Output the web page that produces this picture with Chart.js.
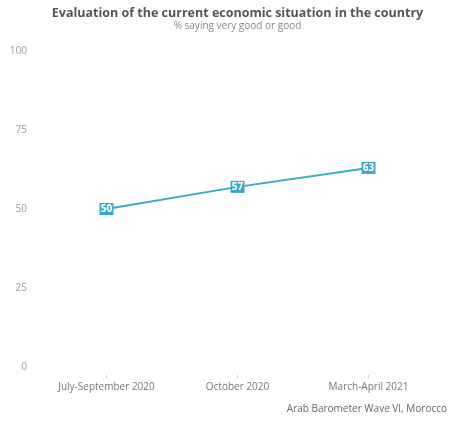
<!DOCTYPE html>
<html>
<head>
<meta charset="utf-8">
<script src="https://cdn.jsdelivr.net/npm/chart.js@4"></script>
<style>
  html, body { margin: 0; padding: 0; background: #fff; }
  #wrap { width: 450px; height: 421px; position: relative; }
</style>
</head>
<body>
<div id="wrap"><canvas id="chart"></canvas></div>
<script>
const periods = ['July-September 2020', 'October 2020', 'March-April 2021'];
const goodShare = [50, 57, 63];
const yTicks = [0, 25, 50, 75, 100];
const titleText = 'Evaluation of the current economic situation in the country';
const subtitleText = '% saying very good or good';
const sourceText = 'Arab Barometer Wave VI, Morocco';

const lineColor = '#3aabc2';

// square value labels sitting on the points
const valueBoxes = {
    id: 'valueBoxes',
    afterDatasetsDraw(chart) {
        const ctx = chart.ctx;
        const meta = chart.getDatasetMeta(0);
        ctx.save();
        ctx.font = 'bold 10px "Open Sans"';
        ctx.textAlign = 'center';
        ctx.textBaseline = 'middle';
        meta.data.forEach((pt, i) => {
            ctx.fillStyle = lineColor;
            ctx.fillRect(pt.x - 7, pt.y - 6, 14, 12);
            ctx.fillStyle = '#fff';
            ctx.fillText(goodShare[i], pt.x, pt.y + 0.5);
        });
        ctx.restore();
    }
};

// title centred over the plot area, source note bottom right
const headerFooter = {
    id: 'headerFooter',
    afterDraw(chart) {
        const ctx = chart.ctx;
        const area = chart.chartArea;
        const mid = (area.left + area.right) / 2;
        ctx.save();
        ctx.textAlign = 'center';
        ctx.textBaseline = 'middle';
        ctx.font = 'bold 12.5px "Open Sans"';
        ctx.fillStyle = '#555';
        ctx.fillText(titleText, mid, 13);
        ctx.font = '10px "Open Sans"';
        ctx.fillStyle = '#888';
        ctx.fillText(subtitleText, mid, 26);
        ctx.textAlign = 'right';
        ctx.fillStyle = '#666';
        ctx.fillText(sourceText, 447, 409);
        ctx.restore();
    }
};

new Chart(document.getElementById('chart'), {
    type: 'line',
    data: {
        labels: periods,
        datasets: [{
            data: goodShare,
            borderColor: lineColor,
            borderWidth: 2,
            pointRadius: 0,
            pointHoverRadius: 0,
            tension: 0
        }]
    },
    options: {
        responsive: true,
        maintainAspectRatio: false,
        animation: false,
        layout: { padding: { left: 0, right: 16, top: 51, bottom: 25 } },
        plugins: {
            legend: { display: false },
            tooltip: { enabled: false }
        },
        scales: {
            x: {
                offset: true,
                grid: {
                    display: true, drawOnChartArea: false, drawTicks: true,
                    tickLength: 11, offset: false, color: '#ccc',
                    tickBorderDash: [0, 8, 3, 20]
                },
                border: { display: false },
                ticks: { color: '#777', font: { family: 'Open Sans', size: 10 }, padding: 3, maxRotation: 0 }
            },
            y: {
                min: 0,
                max: 100,
                afterBuildTicks(axis) { axis.ticks = yTicks.map(v => ({ value: v })); },
                afterFit(axis) { axis.width = 41; },
                grid: { display: false, drawTicks: false },
                border: { display: false },
                ticks: { color: '#999', font: { family: 'Open Sans', size: 10 }, padding: 14 }
            }
        }
    },
    plugins: [valueBoxes, headerFooter]
});
</script>
</body>
</html>
